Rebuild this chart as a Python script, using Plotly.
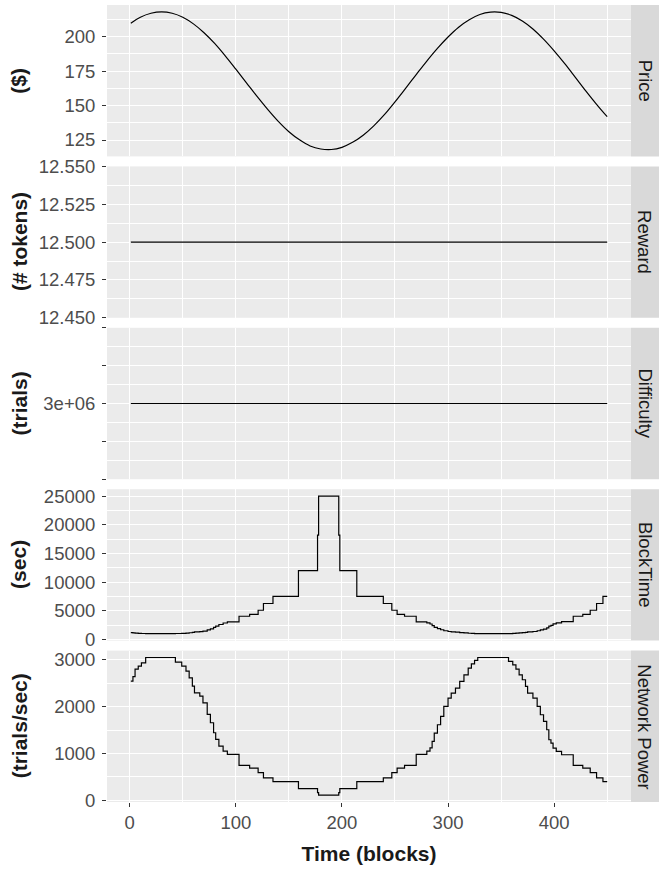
import plotly.graph_objects as go
from plotly.subplots import make_subplots

# ---------------- data ----------------
panels = ["Price", "Reward", "Difficulty", "BlockTime", "Network Power"]
y_titles = ["($)", "(# tokens)", "(trials)", "(sec)", "(trials/sec)"]

price_blocks = [1, 10, 20, 30, 40, 50, 60, 70, 80, 90, 100, 110, 120, 130, 140, 150,
                160, 170, 180, 190, 200, 210, 220, 230, 240, 250, 260, 270, 280, 290,
                300, 310, 320, 330, 340, 350, 360, 370, 380, 390, 400, 410, 420, 430,
                440, 450]
price_vals = [209.8, 214.1, 217.0, 218.0, 217.0, 214.1, 209.3, 202.9, 195.1, 186.1,
              176.4, 166.5, 156.6, 147.2, 138.5, 131.0, 125.1, 120.7, 118.5, 118.1,
              119.7, 123.3, 128.5, 135.3, 143.4, 152.7, 162.5, 172.5, 182.3, 191.5,
              199.8, 206.9, 212.3, 216.1, 217.8, 217.6, 215.5, 211.4, 205.6, 198.2,
              189.7, 180.4, 170.5, 160.5, 150.9, 141.9]

flat_blocks = [1, 450]
reward_vals = [12.5, 12.5]
difficulty_vals = [3e6, 3e6]

step_blocks = [1, 3, 5, 8, 11, 15, 43, 49, 53, 56, 59, 61, 66, 69, 73, 76,
               79, 81, 84, 88, 92, 103, 113, 121, 126, 135, 159, 177, 178, 197,
               198, 214, 239, 247, 252, 259, 270, 280, 283, 285, 287, 290, 293, 296,
               300, 303, 307, 311, 315, 319, 322, 325, 328, 357, 361, 364, 367, 370,
               373, 375, 380, 384, 387, 390, 393, 395, 397, 399, 402, 407, 418, 427,
               434, 440, 446, 450]
power_vals = [2545, 2640, 2800, 2865, 2936, 3050, 2950, 2865, 2758, 2616, 2439, 2296,
              2225, 2083, 1834, 1657, 1443, 1301, 1159, 1052, 981, 745, 690, 590, 480,
              400, 250, 165, 112, 165, 250, 400, 480, 590, 690, 745, 980, 1050, 1120,
              1260, 1436, 1614, 1792, 2005, 2183, 2289, 2396, 2538, 2680, 2823, 2915,
              2990, 3050, 2965, 2894, 2801, 2680, 2574, 2432, 2289, 2183, 2005, 1827,
              1685, 1507, 1294, 1223, 1116, 1045, 974, 745, 690, 590, 480, 400, 400]
blocktime_vals = [1180, 1140, 1070, 1050, 1020, 980, 1020, 1050, 1090, 1150, 1230, 1310,
                  1350, 1440, 1640, 1810, 2080, 2310, 2590, 2850, 3060, 4030, 4350, 5080,
                  6250, 7500, 12000, 18200, 25000, 18200, 12000, 7500, 6250, 5080, 4350,
                  4030, 3060, 2860, 2680, 2380, 2090, 1860, 1670, 1500, 1370, 1310, 1250,
                  1180, 1120, 1060, 1030, 1000, 980, 1010, 1040, 1070, 1120, 1170, 1230,
                  1310, 1370, 1500, 1640, 1780, 1990, 2320, 2450, 2690, 2870, 3080, 4030,
                  4350, 5080, 6250, 7500, 7500]

x_ticks = [0, 100, 200, 300, 400]
x_minor = [50, 150, 250, 350, 450]

y_ticks = [
    [125, 150, 175, 200],
    [12.45, 12.475, 12.5, 12.525, 12.55],
    [2.85e6, 2.925e6, 3e6, 3.075e6, 3.15e6],
    [0, 5000, 10000, 15000, 20000, 25000],
    [0, 1000, 2000, 3000],
]
y_ticktext = [
    ["125", "150", "175", "200"],
    ["12.450", "12.475", "12.500", "12.525", "12.550"],
    ["", "", "3e+06", "", ""],
    ["0", "5000", "10000", "15000", "20000", "25000"],
    ["0", "1000", "2000", "3000"],
]
y_minor = [
    [112.5, 137.5, 162.5, 187.5, 212.5],
    [12.4625, 12.4875, 12.5125, 12.5375],
    [2.8875e6, 2.9625e6, 3.0375e6, 3.1125e6],
    [2500, 7500, 12500, 17500, 22500],
    [500, 1500, 2500],
]
y_ranges = [
    [113.1, 223.0],
    [12.45, 12.55],
    [2.85e6, 3.15e6],
    [-221, 26201],
    [-35, 3197],
]

# ---------------- figure ----------------
W, H = 659, 871
ML, MR, MT, MB = 107, 28, 5, 68.5
gap_px = 10
plot_h = H - MT - MB
plot_w = W - ML - MR

fig = make_subplots(rows=5, cols=1, shared_xaxes=True,
                    vertical_spacing=gap_px / plot_h)

series = [
    (price_blocks, price_vals, "spline"),
    (flat_blocks, reward_vals, "linear"),
    (flat_blocks, difficulty_vals, "linear"),
    (step_blocks, blocktime_vals, "hv"),
    (step_blocks, power_vals, "hv"),
]
for i, (xs, ys, shp) in enumerate(series):
    fig.add_trace(go.Scatter(x=xs, y=ys, mode="lines",
                             line=dict(color="black", width=1.2, shape=shp),
                             showlegend=False, hoverinfo="skip"),
                  row=i + 1, col=1)

FONT = "Liberation Sans, Arial, sans-serif"
for i in range(5):
    fig.update_yaxes(row=i + 1, col=1,
                     range=y_ranges[i], tickvals=y_ticks[i], ticktext=y_ticktext[i],
                     showgrid=True, gridcolor="white", gridwidth=1.1,
                     zeroline=False, showline=False,
                     ticks="outside", ticklen=4, tickcolor="#333333", tickwidth=1.1,
                     ticklabelstandoff=3,
                     tickfont=dict(family=FONT, size=18.5, color="#4D4D4D"),
                     minor=dict(tickvals=y_minor[i], showgrid=True,
                                gridcolor="white", gridwidth=0.55, ticks=""))
    last = (i == 4)
    fig.update_xaxes(row=i + 1, col=1,
                     range=[-21.45, 472.45], tickvals=x_ticks,
                     ticktext=[str(v) for v in x_ticks],
                     showticklabels=last,
                     showgrid=True, gridcolor="white", gridwidth=1.1,
                     zeroline=False, showline=False,
                     ticks="outside" if last else "", ticklen=4,
                     tickcolor="#333333", tickwidth=1.1,
                     tickfont=dict(family=FONT, size=18.5, color="#4D4D4D"),
                     minor=dict(tickvals=x_minor, showgrid=True,
                                gridcolor="white", gridwidth=0.55, ticks=""))

fig.update_xaxes(row=5, col=1,
                 title=dict(text="<b>Time (blocks)</b>", standoff=14,
                            font=dict(family=FONT, size=21, color="#1A1A1A")))

# strips and y titles
strip_x1 = 1 + (MR) / plot_w
for i in range(5):
    yax = fig.layout["yaxis" if i == 0 else f"yaxis{i+1}"]
    d0, d1 = yax.domain
    fig.add_shape(type="rect", xref="paper", yref="paper",
                  x0=1.0, x1=strip_x1, y0=d0, y1=d1,
                  fillcolor="#D9D9D9", line=dict(width=0), layer="below")
    fig.add_annotation(xref="paper", yref="paper",
                       x=1 + (MR / 2) / plot_w, y=(d0 + d1) / 2,
                       text=panels[i], showarrow=False, textangle=90,
                       font=dict(family=FONT, size=18.5, color="#1A1A1A"),
                       xanchor="center", yanchor="middle")
    fig.add_annotation(xref="paper", yref="paper",
                       x=(19 - ML) / plot_w, y=(d0 + d1) / 2,
                       text=f"<b>{y_titles[i]}</b>", showarrow=False, textangle=-90,
                       font=dict(family=FONT, size=21, color="#1A1A1A"),
                       xanchor="center", yanchor="middle")

fig.update_layout(width=W, height=H,
                  margin=dict(l=ML, r=MR, t=MT, b=MB, autoexpand=False),
                  paper_bgcolor="white", plot_bgcolor="#EBEBEB",
                  font=dict(family=FONT),
                  showlegend=False)

fig.write_html("out.html",
               config={"displayModeBar": False},
               post_script="document.body.style.margin='0px';"
                           "document.body.style.overflow='hidden';")
